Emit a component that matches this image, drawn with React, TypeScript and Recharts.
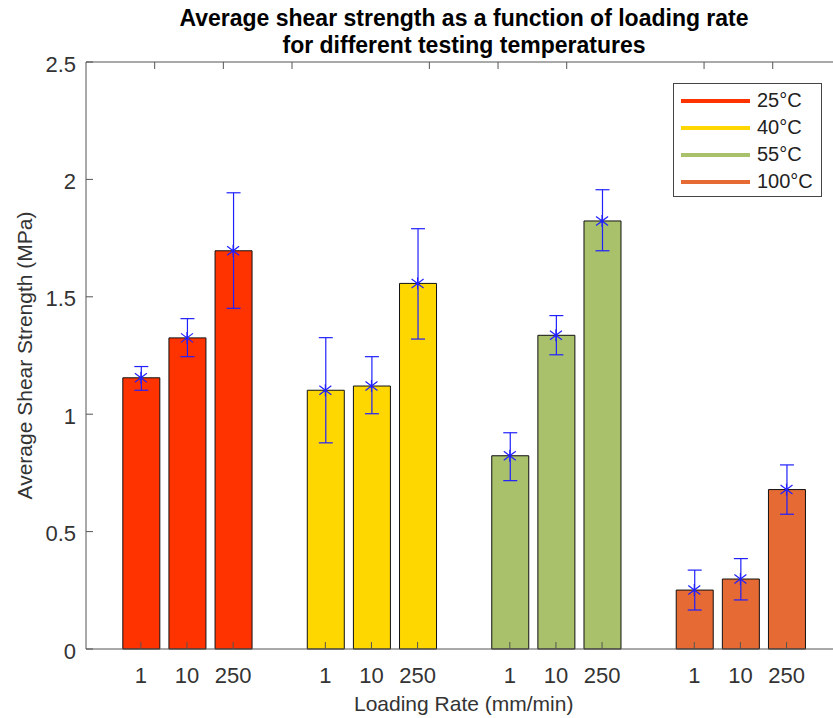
import React from 'react';
import { ComposedChart, Bar, Cell, ErrorBar, Scatter, XAxis, YAxis, Legend } from 'recharts';

const temperatures = ['25°C', '40°C', '55°C', '100°C'];
const loadingRates = ['1', '10', '250'];
const meanStrength = [
  [1.155, 1.325, 1.696],
  [1.102, 1.12, 1.557],
  [0.823, 1.336, 1.823],
  [0.251, 0.298, 0.679],
];
const upperLimit = [
  [1.203, 1.407, 1.943],
  [1.326, 1.245, 1.79],
  [0.921, 1.42, 1.956],
  [0.336, 0.385, 0.784],
];
const lowerLimit = [
  [1.102, 1.245, 1.451],
  [0.878, 1.002, 1.32],
  [0.717, 1.253, 1.696],
  [0.166, 0.209, 0.574],
];
const groupColors = ['#FF3300', '#FFD700', '#A9C16B', '#E66A33'];
const yTicks = [0, 0.5, 1, 1.5, 2, 2.5];

const rows = temperatures.flatMap((temp, g) =>
  loadingRates.map((rate, i) => ({
    pos: g * 4 + i + 1,
    rate,
    temp,
    mean: meanStrength[g][i],
    err: [meanStrength[g][i] - lowerLimit[g][i], upperLimit[g][i] - meanStrength[g][i]],
    color: groupColors[g],
  }))
);
const xTicks = rows.map((r) => r.pos);

const FONT = '"Liberation Sans", Arial, Helvetica, sans-serif';
const AXIS = '#555';
const TEXT = '#333';
const BLUE = '#2020ff';

const BottomTick = (props: any) => {
  const { x, y, payload } = props;
  const label = rows.find((r) => r.pos === payload.value)?.rate ?? '';
  return (
    <g>
      <line x1={x} x2={x} y1={y} y2={y - 7} stroke={AXIS} />
      <text x={x} y={y + 34} textAnchor='middle' fontSize={22} fill={TEXT}>
        {label}
      </text>
    </g>
  );
};

const TopTick = (props: any) => {
  const { x, y } = props;
  return <line x1={x} x2={x} y1={y} y2={y + 7} stroke={AXIS} />;
};

const LeftTick = (props: any) => {
  const { x, y, payload } = props;
  return (
    <g>
      <line x1={x} x2={x + 7} y1={y} y2={y} stroke={AXIS} />
      <text x={x - 10} y={y + 9.5} textAnchor='end' fontSize={22} fill={TEXT}>
        {payload.value}
      </text>
    </g>
  );
};

const Star = (props: any) => {
  const { cx, cy } = props;
  return (
    <g stroke={BLUE} strokeWidth={1.2} fill={BLUE}>
      <line x1={cx - 6} y1={cy - 4.5} x2={cx + 6} y2={cy + 4.5} />
      <line x1={cx - 6} y1={cy + 4.5} x2={cx + 6} y2={cy - 4.5} />
      <line x1={cx} y1={cy - 6} x2={cx} y2={cy + 6} />
      <circle cx={cx} cy={cy} r={1.6} stroke='none' />
    </g>
  );
};

const renderLegend = () => (
  <div
    style={{
      boxSizing: 'border-box',
      width: '100%',
      height: '100%',
      border: '1px solid #444',
      background: '#fff',
      paddingTop: 3,
      fontFamily: FONT,
    }}
  >
    {temperatures.map((t, g) => (
      <div key={t} style={{ display: 'flex', alignItems: 'center', height: 27 }}>
        <div style={{ marginLeft: 7, width: 69, height: 4, background: groupColors[g] }} />
        <span style={{ marginLeft: 7, fontSize: 20, color: '#222' }}>{t}</span>
      </div>
    ))}
  </div>
);

export default function App() {
  return (
    <div
      style={{
        position: 'relative',
        width: 833,
        height: 718,
        overflow: 'hidden',
        background: '#fff',
        fontFamily: FONT,
      }}
    >
      <style>{'body{margin:0}'}</style>
      <div
        style={{
          position: 'absolute',
          left: 0,
          top: 5,
          width: 928,
          textAlign: 'center',
          fontWeight: 'bold',
          fontSize: 23,
          lineHeight: '27px',
          color: '#000',
        }}
      >
        Average shear strength as a function of loading rate
        <br />
        for different testing temperatures
      </div>
      <ComposedChart
        width={850}
        height={718}
        data={rows}
        margin={{ top: 61, right: 8.6, bottom: 68, left: 85 }}
        style={{ position: 'absolute', left: 0, top: 0, fontFamily: FONT }}
      >
        <XAxis
          dataKey='pos'
          type='number'
          domain={[-0.19, 16.19]}
          ticks={xTicks}
          interval={0}
          height={1}
          tickSize={0}
          tickMargin={0}
          tickLine={false}
          tick={<BottomTick />}
          axisLine={{ stroke: AXIS }}
          label={{
            value: 'Loading Rate (mm/min)',
            position: 'bottom',
            offset: 46,
            fontSize: 21,
            fill: TEXT,
          }}
        />
        <XAxis
          xAxisId='top'
          orientation='top'
          type='number'
          domain={[-0.19, 16.19]}
          ticks={xTicks}
          interval={0}
          height={1}
          tickSize={0}
          tickMargin={0}
          tickLine={false}
          tick={<TopTick />}
          axisLine={{ stroke: AXIS }}
        />
        <YAxis
          type='number'
          domain={[0, 2.5]}
          ticks={yTicks}
          interval={0}
          width={1}
          tickSize={0}
          tickMargin={0}
          tickLine={false}
          tick={<LeftTick />}
          axisLine={{ stroke: AXIS }}
          label={{
            value: 'Average Shear Strength (MPa)',
            angle: -90,
            position: 'left',
            offset: 60,
            fontSize: 21,
            fill: TEXT,
            style: { textAnchor: 'middle' },
          }}
        />
        <Legend
          content={renderLegend}
          layout='horizontal'
          verticalAlign='middle'
          align='center'
          wrapperStyle={{ left: 673, top: 83, width: 149, height: 114 }}
        />
        <Bar dataKey='mean' barSize={37} isAnimationActive={false} stroke='#111' strokeWidth={1}>
          {rows.map((r) => (
            <Cell key={r.pos} fill={r.color} />
          ))}
          <ErrorBar dataKey='err' width={7} stroke={BLUE} strokeWidth={1.2} direction='y' isAnimationActive={false} />
        </Bar>
        <Scatter dataKey='mean' shape={<Star />} isAnimationActive={false} legendType='none' />
      </ComposedChart>
    </div>
  );
}
